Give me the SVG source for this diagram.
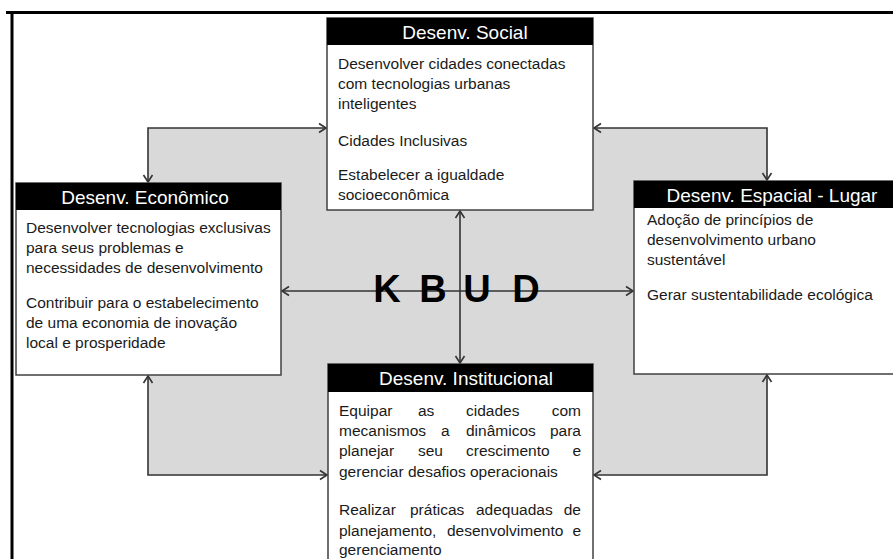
<svg xmlns="http://www.w3.org/2000/svg" width="893" height="559" viewBox="0 0 893 559">
  <style>
    .frame { stroke: #000; stroke-width: 3; fill: none; }
    .box { fill: #fff; stroke: #404040; stroke-width: 1.5; }
    .head { fill: #000; }
    .ht { font-family: "Liberation Sans", Arial, sans-serif; font-size: 19px; fill: #fff; text-anchor: middle; }
    .bt { font-family: "Liberation Sans", Arial, sans-serif; font-size: 15.5px; fill: #1a1a1a; }
    .end { text-anchor: end; }
    .conn { fill: none; stroke: #333; stroke-width: 1.6; marker-start: url(#arr); marker-end: url(#arr); }
    .kbud { font-family: "Liberation Sans", Arial, sans-serif; font-size: 38px; font-weight: bold; fill: #000; text-anchor: middle; }
  </style>
  <defs>
    <marker id="arr" markerUnits="userSpaceOnUse" markerWidth="12" markerHeight="12" viewBox="-10 -6 12 12" refX="0" refY="0" orient="auto-start-reverse">
      <path d="M-7,-4.5 L0,0 L-7,4.5" fill="none" stroke="#333" stroke-width="1.6"/>
    </marker>
  </defs>
  <rect width="893" height="559" fill="#fff"/>

  <!-- outer frame -->
  <path class="frame" d="M6,12.5 H893 M12,11 V559"/>

  <!-- gray background -->
  <rect x="148" y="128" width="619" height="347" fill="#d9d9d9"/>

  <g id="connectors">
    <path class="conn" d="M148,182 V128 H326"/>
    <path class="conn" d="M594,128 H767 V180"/>
    <path class="conn" d="M148,376 V475 H327"/>
    <path class="conn" d="M767,375 V475 H594"/>
    <path class="conn" d="M460,211 V363"/>
    <path class="conn" d="M282,291 H633"/>
  </g>

  <g id="kbud">
    <text class="kbud" x="387" y="302">K</text>
    <text class="kbud" x="433" y="302">B</text>
    <text class="kbud" x="477" y="302">U</text>
    <text class="kbud" x="526" y="302">D</text>
  </g>

  <g id="social">
    <rect class="box" x="327" y="18" width="266" height="192"/>
    <rect class="head" x="327" y="18" width="266" height="27"/>
    <text class="ht" x="465" y="39">Desenv. Social</text>
    <text class="bt" x="338" y="69">Desenvolver cidades conectadas</text>
    <text class="bt" x="338" y="89">com tecnologias urbanas</text>
    <text class="bt" x="338" y="109">inteligentes</text>
    <text class="bt" x="338" y="146">Cidades Inclusivas</text>
    <text class="bt" x="338" y="180">Estabelecer a igualdade</text>
    <text class="bt" x="338" y="200">socioeconômica</text>
  </g>

  <g id="economico">
    <rect class="box" x="16" y="183" width="265" height="192"/>
    <rect class="head" x="16" y="183" width="265" height="27"/>
    <text class="ht" x="145" y="204">Desenv. Econômico</text>
    <text class="bt" x="26" y="233">Desenvolver tecnologias exclusivas</text>
    <text class="bt" x="26" y="253">para seus problemas e</text>
    <text class="bt" x="26" y="273">necessidades de desenvolvimento</text>
    <text class="bt" x="26" y="308">Contribuir para o estabelecimento</text>
    <text class="bt" x="26" y="328">de uma economia de inovação</text>
    <text class="bt" x="26" y="348">local e prosperidade</text>
  </g>

  <g id="espacial">
    <rect class="box" x="634" y="181" width="270" height="193"/>
    <rect class="head" x="634" y="181" width="270" height="27"/>
    <text class="ht" x="772" y="202">Desenv. Espacial - Lugar</text>
    <text class="bt" x="647" y="225">Adoção de princípios de</text>
    <text class="bt" x="647" y="245">desenvolvimento urbano</text>
    <text class="bt" x="647" y="265">sustentável</text>
    <text class="bt" x="647" y="300">Gerar sustentabilidade ecológica</text>
  </g>

  <g id="institucional">
    <rect class="box" x="328" y="364" width="265" height="205"/>
    <rect class="head" x="328" y="364" width="265" height="28"/>
    <text class="ht" x="466" y="385">Desenv. Institucional</text>
    <text class="bt" x="339" y="416">Equipar</text>
    <text class="bt" x="418" y="416">as</text>
    <text class="bt" x="466" y="416">cidades</text>
    <text class="bt end" x="581" y="416">com</text>
    <text class="bt" x="339" y="436">mecanismos</text>
    <text class="bt" x="441" y="436">a</text>
    <text class="bt" x="466" y="436">dinâmicos</text>
    <text class="bt end" x="581" y="436">para</text>
    <text class="bt" x="339" y="456">planejar</text>
    <text class="bt" x="418" y="456">seu</text>
    <text class="bt" x="466" y="456">crescimento</text>
    <text class="bt end" x="581" y="456">e</text>
    <text class="bt" x="339" y="477">gerenciar desafios operacionais</text>
    <text class="bt" x="339" y="515">Realizar</text>
    <text class="bt" x="410" y="515">práticas</text>
    <text class="bt" x="476" y="515">adequadas</text>
    <text class="bt end" x="581" y="515">de</text>
    <text class="bt" x="339" y="536">planejamento,</text>
    <text class="bt" x="447" y="536">desenvolvimento</text>
    <text class="bt end" x="581" y="536">e</text>
    <text class="bt" x="339" y="555">gerenciamento</text>
  </g>
</svg>
